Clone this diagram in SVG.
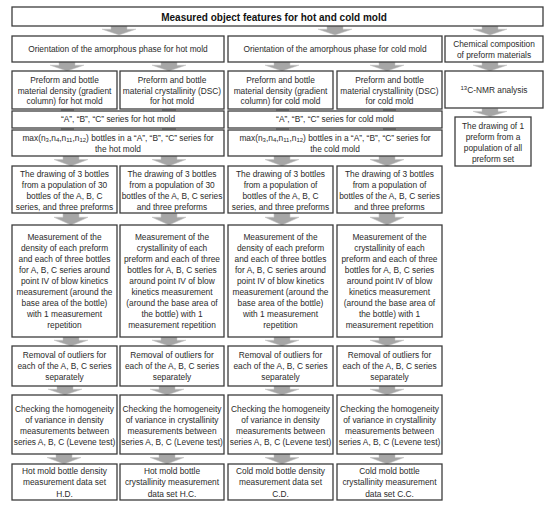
<svg xmlns="http://www.w3.org/2000/svg" xmlns:xlink="http://www.w3.org/1999/xlink" width="550" height="509" viewBox="0 0 550 509">
<style>
.b{fill:#fff;stroke:#3c3c3c;stroke-width:1.3}
.t{font-family:"Liberation Sans",Arial,sans-serif;font-size:8.35px;fill:#2b2b2b;text-anchor:middle}
.h{font-family:"Liberation Sans",Arial,sans-serif;font-size:10px;font-weight:bold;fill:#111;text-anchor:middle}
.a{fill:#a6a6a6;stroke:#c4c4c4;stroke-width:0.5}
.s{fill:#a6a6a6}
</style>
<defs>
<path id="arr" class="a" d="M-8,0 H8 V3.2 H17 L0,9 L-17,3.2 H-8 Z"/>
</defs>
<rect width="550" height="509" fill="#fff"/>
<g id="connectors">
<use xlink:href="#arr" transform="translate(119,26)"/>
<use xlink:href="#arr" transform="translate(335,26)"/>
<use xlink:href="#arr" transform="translate(490,26)"/>
<use xlink:href="#arr" transform="translate(67,62)"/>
<use xlink:href="#arr" transform="translate(169,62)"/>
<use xlink:href="#arr" transform="translate(282,62)"/>
<use xlink:href="#arr" transform="translate(387,62)"/>
<use xlink:href="#arr" transform="translate(490,62)"/>
<use xlink:href="#arr" transform="translate(490,108.5) scale(1,0.9)"/>
<rect class="s" x="61" y="109" width="13" height="2"/>
<rect class="s" x="162" y="109" width="14" height="2"/>
<rect class="s" x="276" y="109" width="13" height="2"/>
<rect class="s" x="383" y="109" width="13" height="2"/>
<rect class="s" x="61" y="128" width="13" height="2"/>
<rect class="s" x="162" y="128" width="14" height="2"/>
<rect class="s" x="276" y="128" width="13" height="2"/>
<rect class="s" x="383" y="128" width="13" height="2"/>
<use xlink:href="#arr" transform="translate(71,156) scale(1,1.1)"/>
<use xlink:href="#arr" transform="translate(169,156) scale(1,1.1)"/>
<use xlink:href="#arr" transform="translate(282,156) scale(1,1.1)"/>
<use xlink:href="#arr" transform="translate(387,156) scale(1,1.1)"/>
<use xlink:href="#arr" transform="translate(71,213) scale(1,1.33)"/>
<use xlink:href="#arr" transform="translate(169,213) scale(1,1.33)"/>
<use xlink:href="#arr" transform="translate(282,213) scale(1,1.33)"/>
<use xlink:href="#arr" transform="translate(387,213) scale(1,1.33)"/>
<use xlink:href="#arr" transform="translate(71,337)"/>
<use xlink:href="#arr" transform="translate(169,337)"/>
<use xlink:href="#arr" transform="translate(282,337)"/>
<use xlink:href="#arr" transform="translate(387,337)"/>
<use xlink:href="#arr" transform="translate(65,386)"/>
<use xlink:href="#arr" transform="translate(167,386)"/>
<use xlink:href="#arr" transform="translate(282,386)"/>
<use xlink:href="#arr" transform="translate(387,386)"/>
<use xlink:href="#arr" transform="translate(64,454) scale(1,1.1)"/>
<use xlink:href="#arr" transform="translate(167,454) scale(1,1.1)"/>
<use xlink:href="#arr" transform="translate(282,454) scale(1,1.1)"/>
<use xlink:href="#arr" transform="translate(387,454) scale(1,1.1)"/>
</g>
<g id="title"><rect class="b" x="12" y="7" width="531" height="19"/><text class="h" x="274" y="20.5">Measured object features for hot and cold mold</text></g>
<g id="orient-hot"><rect class="b" x="12" y="36" width="212" height="26"/><text class="t" x="118" y="52">Orientation of the amorphous phase for hot mold</text></g>
<g id="orient-cold"><rect class="b" x="228" y="36" width="214" height="26"/><text class="t" x="335" y="52">Orientation of the amorphous phase for cold mold</text></g>
<g id="chem"><rect class="b" x="445" y="36" width="98" height="26"/><text class="t"><tspan x="494" y="46.5">Chemical composition</tspan><tspan x="494" y="57.5">of preform materials</tspan></text></g>
<g id="dens-hot"><rect class="b" x="12" y="71" width="105" height="38"/><text class="t"><tspan x="64.5" y="82.5">Preform and bottle</tspan><tspan x="64.5" y="93.5">material density (gradient</tspan><tspan x="64.5" y="104.3">column) for hot mold</tspan></text></g>
<g id="cryst-hot"><rect class="b" x="120" y="71" width="104" height="38"/><text class="t"><tspan x="172" y="82.5">Preform and bottle</tspan><tspan x="172" y="93.5">material crystallinity (DSC)</tspan><tspan x="172" y="104.3">for hot mold</tspan></text></g>
<g id="dens-cold"><rect class="b" x="228" y="71" width="105" height="38"/><text class="t"><tspan x="280.5" y="82.5">Preform and bottle</tspan><tspan x="280.5" y="93.5">material density (gradient</tspan><tspan x="280.5" y="104.3">column) for cold mold</tspan></text></g>
<g id="cryst-cold"><rect class="b" x="337" y="71" width="105" height="38"/><text class="t"><tspan x="389.5" y="82.5">Preform and bottle</tspan><tspan x="389.5" y="93.5">material crystallinity (DSC)</tspan><tspan x="389.5" y="104.3">for cold mold</tspan></text></g>
<g id="nmr"><rect class="b" x="445" y="71" width="98" height="37"/><text class="t" x="494" y="93"><tspan font-size="6" dy="-3">13</tspan><tspan dy="3">C-NMR analysis</tspan></text></g>
<g id="series-hot"><rect class="b" x="12" y="111" width="212" height="17"/><text class="t" x="118" y="122">“A”, “B”, “C” series for hot mold</text></g>
<g id="series-cold"><rect class="b" x="228" y="111" width="214" height="17"/><text class="t" x="335" y="122">“A”, “B”, “C” series for cold mold</text></g>
<g id="draw-preform"><rect class="b" x="455" y="117" width="76" height="49"/><text class="t"><tspan x="493" y="128.5">The drawing of 1</tspan><tspan x="493" y="139.5">preform from a</tspan><tspan x="493" y="150.5">population of all</tspan><tspan x="493" y="161.5">preform set</tspan></text></g>
<g id="max-hot"><rect class="b" x="12" y="130" width="212" height="26"/><text class="t"><tspan x="118" y="140.5">max(n<tspan font-size="6" dy="1.5">3</tspan><tspan dy="-1.5">,n</tspan><tspan font-size="6" dy="1.5">4</tspan><tspan dy="-1.5">,n</tspan><tspan font-size="6" dy="1.5">11</tspan><tspan dy="-1.5">,n</tspan><tspan font-size="6" dy="1.5">12</tspan><tspan dy="-1.5">) bottles in a “A”, “B”, “C” series for</tspan></tspan><tspan x="118" y="152">the hot mold</tspan></text></g>
<g id="max-cold"><rect class="b" x="228" y="130" width="214" height="26"/><text class="t"><tspan x="335" y="140.5">max(n<tspan font-size="6" dy="1.5">3</tspan><tspan dy="-1.5">,n</tspan><tspan font-size="6" dy="1.5">4</tspan><tspan dy="-1.5">,n</tspan><tspan font-size="6" dy="1.5">11</tspan><tspan dy="-1.5">,n</tspan><tspan font-size="6" dy="1.5">12</tspan><tspan dy="-1.5">) bottles in a “A”, “B”, “C” series for</tspan></tspan><tspan x="335" y="152">the cold mold</tspan></text></g>
<g id="draw-c1"><rect class="b" x="12" y="166" width="105" height="47"/><text class="t"><tspan x="64.5" y="177.3">The drawing of 3 bottles</tspan><tspan x="64.5" y="188.3">from a population of 30</tspan><tspan x="64.5" y="199.3">bottles of the A, B, C</tspan><tspan x="64.5" y="210.3">series, and three preforms</tspan></text></g>
<g id="draw-c2"><rect class="b" x="120" y="166" width="104" height="47"/><text class="t"><tspan x="172" y="177.3">The drawing of 3 bottles</tspan><tspan x="172" y="188.3">from a population of 30</tspan><tspan x="172" y="199.3">bottles of the A, B, C series</tspan><tspan x="172" y="210.3">and three preforms</tspan></text></g>
<g id="draw-c3"><rect class="b" x="228" y="166" width="105" height="47"/><text class="t"><tspan x="280.5" y="177.3">The drawing of 3 bottles</tspan><tspan x="280.5" y="188.3">from a population of</tspan><tspan x="280.5" y="199.3">bottles of the A, B, C</tspan><tspan x="280.5" y="210.3">series, and three preforms</tspan></text></g>
<g id="draw-c4"><rect class="b" x="337" y="166" width="105" height="47"/><text class="t"><tspan x="389.5" y="177.3">The drawing of 3 bottles</tspan><tspan x="389.5" y="188.3">from a population of</tspan><tspan x="389.5" y="199.3">bottles of the A, B, C series</tspan><tspan x="389.5" y="210.3">and three preforms</tspan></text></g>
<g id="meas-c1"><rect class="b" x="12" y="225" width="105" height="112"/><text class="t"><tspan x="64.5" y="239.5">Measurement of the</tspan><tspan x="64.5" y="250.6">density of each preform</tspan><tspan x="64.5" y="261.7">and each of three bottles</tspan><tspan x="64.5" y="272.8">for A, B, C series around</tspan><tspan x="64.5" y="283.9">point IV of blow kinetics</tspan><tspan x="64.5" y="295">measurement (around the</tspan><tspan x="64.5" y="306.1">base area of the bottle)</tspan><tspan x="64.5" y="317.2">with 1 measurement</tspan><tspan x="64.5" y="328.3">repetition</tspan></text></g>
<g id="meas-c2"><rect class="b" x="120" y="225" width="104" height="112"/><text class="t"><tspan x="172" y="239.5">Measurement of the</tspan><tspan x="172" y="250.6">crystallinity of each</tspan><tspan x="172" y="261.7">preform and each of three</tspan><tspan x="172" y="272.8">bottles for A, B, C series</tspan><tspan x="172" y="283.9">around point IV of blow</tspan><tspan x="172" y="295">kinetics measurement</tspan><tspan x="172" y="306.1">(around the base area of</tspan><tspan x="172" y="317.2">the bottle) with 1</tspan><tspan x="172" y="328.3">measurement repetition</tspan></text></g>
<g id="meas-c3"><rect class="b" x="228" y="225" width="105" height="112"/><text class="t"><tspan x="280.5" y="239.5">Measurement of the</tspan><tspan x="280.5" y="250.6">density of each preform</tspan><tspan x="280.5" y="261.7">and each of three bottles</tspan><tspan x="280.5" y="272.8">for A, B, C series around</tspan><tspan x="280.5" y="283.9">point IV of blow kinetics</tspan><tspan x="280.5" y="295">measurement (around the</tspan><tspan x="280.5" y="306.1">base area of the bottle)</tspan><tspan x="280.5" y="317.2">with 1 measurement</tspan><tspan x="280.5" y="328.3">repetition</tspan></text></g>
<g id="meas-c4"><rect class="b" x="337" y="225" width="105" height="112"/><text class="t"><tspan x="389.5" y="239.5">Measurement of the</tspan><tspan x="389.5" y="250.6">crystallinity of each</tspan><tspan x="389.5" y="261.7">preform and each of three</tspan><tspan x="389.5" y="272.8">bottles for A, B, C series</tspan><tspan x="389.5" y="283.9">around point IV of blow</tspan><tspan x="389.5" y="295">kinetics measurement</tspan><tspan x="389.5" y="306.1">(around the base area of</tspan><tspan x="389.5" y="317.2">the bottle) with 1</tspan><tspan x="389.5" y="328.3">measurement repetition</tspan></text></g>
<g id="rem-c1"><rect class="b" x="12" y="346" width="105" height="40"/><text class="t"><tspan x="64.5" y="358">Removal of outliers for</tspan><tspan x="64.5" y="369">each of the A, B, C series</tspan><tspan x="64.5" y="380">separately</tspan></text></g>
<g id="rem-c2"><rect class="b" x="120" y="346" width="104" height="40"/><text class="t"><tspan x="172" y="358">Removal of outliers for</tspan><tspan x="172" y="369">each of the A, B, C series</tspan><tspan x="172" y="380">separately</tspan></text></g>
<g id="rem-c3"><rect class="b" x="228" y="346" width="105" height="40"/><text class="t"><tspan x="280.5" y="358">Removal of outliers for</tspan><tspan x="280.5" y="369">each of the A, B, C series</tspan><tspan x="280.5" y="380">separately</tspan></text></g>
<g id="rem-c4"><rect class="b" x="337" y="346" width="105" height="40"/><text class="t"><tspan x="389.5" y="358">Removal of outliers for</tspan><tspan x="389.5" y="369">each of the A, B, C series</tspan><tspan x="389.5" y="380">separately</tspan></text></g>
<g id="chk-c1"><rect class="b" x="12" y="395" width="105" height="59"/><text class="t"><tspan x="64.5" y="411.5">Checking the homogeneity</tspan><tspan x="64.5" y="422.6">of variance in density</tspan><tspan x="64.5" y="433.7">measurements between</tspan><tspan x="64.5" y="444.8">series A, B, C (Levene test)</tspan></text></g>
<g id="chk-c2"><rect class="b" x="120" y="395" width="104" height="59"/><text class="t"><tspan x="172" y="411.5">Checking the homogeneity</tspan><tspan x="172" y="422.6">of variance in crystallinity</tspan><tspan x="172" y="433.7">measurements between</tspan><tspan x="172" y="444.8">series A, B, C (Levene test)</tspan></text></g>
<g id="chk-c3"><rect class="b" x="228" y="395" width="105" height="59"/><text class="t"><tspan x="280.5" y="411.5">Checking the homogeneity</tspan><tspan x="280.5" y="422.6">of variance in density</tspan><tspan x="280.5" y="433.7">measurements between</tspan><tspan x="280.5" y="444.8">series A, B, C (Levene test)</tspan></text></g>
<g id="chk-c4"><rect class="b" x="337" y="395" width="105" height="59"/><text class="t"><tspan x="389.5" y="411.5">Checking the homogeneity</tspan><tspan x="389.5" y="422.6">of variance in crystallinity</tspan><tspan x="389.5" y="433.7">measurements between</tspan><tspan x="389.5" y="444.8">series A, B, C (Levene test)</tspan></text></g>
<g id="set-hd"><rect class="b" x="12" y="464" width="105" height="36"/><text class="t"><tspan x="64.5" y="474">Hot mold bottle density</tspan><tspan x="64.5" y="485.3">measurement  data set</tspan><tspan x="64.5" y="496.5">H.D.</tspan></text></g>
<g id="set-hc"><rect class="b" x="120" y="464" width="104" height="36"/><text class="t"><tspan x="172" y="474">Hot mold bottle</tspan><tspan x="172" y="485.3">crystallinity measurement</tspan><tspan x="172" y="496.5">data set H.C.</tspan></text></g>
<g id="set-cd"><rect class="b" x="228" y="464" width="105" height="36"/><text class="t"><tspan x="280.5" y="474">Cold mold bottle density</tspan><tspan x="280.5" y="485.3">measurement data set</tspan><tspan x="280.5" y="496.5">C.D.</tspan></text></g>
<g id="set-cc"><rect class="b" x="337" y="464" width="105" height="36"/><text class="t"><tspan x="389.5" y="474">Cold mold bottle</tspan><tspan x="389.5" y="485.3">crystallinity measurement</tspan><tspan x="389.5" y="496.5">data set C.C.</tspan></text></g>
</svg>
